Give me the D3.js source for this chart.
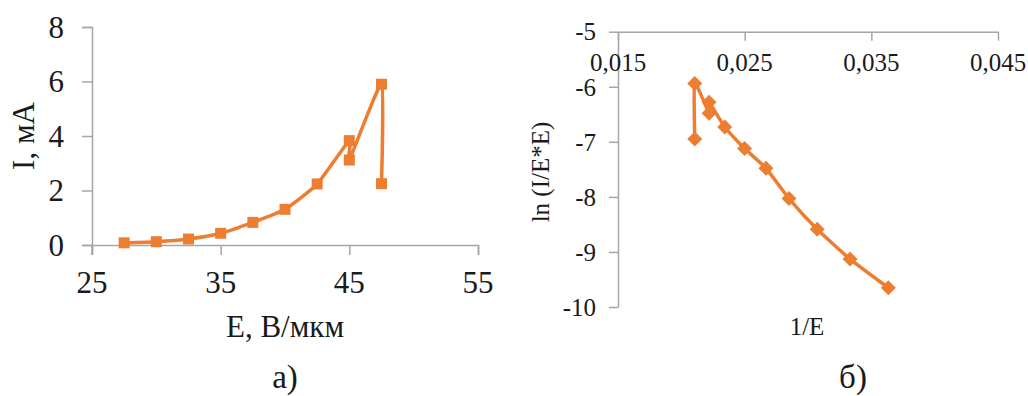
<!DOCTYPE html>
<html><head><meta charset="utf-8">
<script src="https://cdn.jsdelivr.net/npm/d3@7"></script>
<style>
html,body{margin:0;padding:0;background:#fff;}
svg text{font-family:"Liberation Serif","Times New Roman",serif;fill:#1a1a1a;}
</style></head>
<body><svg id="c" width="1028" height="396"></svg>
<script>
// Chart a): I vs E
const E_vals = [27.5, 30, 32.5, 35, 37.5, 40, 42.5, 45, 45, 47.5, 47.5];
const I_vals = [0.08, 0.12, 0.22, 0.43, 0.83, 1.31, 2.24, 3.83, 3.12, 5.9, 2.25];
const xTicksA = [25, 35, 45, 55];
const yTicksA = [0, 2, 4, 6, 8];
// Chart б): ln(I/E*E) vs 1/E
const invE_vals = [0.03634, 0.03332, 0.03073, 0.02850, 0.02668, 0.02499, 0.02343, 0.02219, 0.02219, 0.02106, 0.02106];
const lnVals = [-9.65, -9.13, -8.59, -8.03, -7.48, -7.12, -6.73, -6.28, -6.48, -5.94, -6.95];
const xTicksB = [0.015, 0.025, 0.035, 0.045];
const yTicksB = [-5, -6, -7, -8, -9, -10];

const svg = d3.select("#c");
const orange = "#ED7D31", axisCol = "#A6A6A6";

// ---- Chart a ----
const xA = d3.scaleLinear().domain([25, 55]).range([92, 478]);
const yA = d3.scaleLinear().domain([0, 8]).range([245, 27]);
const gA = svg.append("g");
gA.append("g").attr("transform", `translate(0,${yA(0)})`)
  .call(d3.axisBottom(xA).tickValues(xTicksA).tickSize(10).tickFormat(""))
  .call(g => { g.selectAll("path,line").attr("stroke", axisCol).attr("stroke-width", 1.5); });
gA.append("g").attr("transform", `translate(${xA(25)},0)`)
  .call(d3.axisLeft(yA).tickValues(yTicksA).tickSize(10).tickFormat(""))
  .call(g => { g.selectAll("path,line").attr("stroke", axisCol).attr("stroke-width", 1.5); });
gA.append("line").attr("x1", xA(25)).attr("x2", xA(25)).attr("y1", yA(0)).attr("y2", yA(0) + 10)
  .attr("stroke", axisCol).attr("stroke-width", 1.5);
gA.selectAll(".ytl").data(yTicksA).enter().append("text")
  .attr("x", 64).attr("y", d => yA(d)).attr("dy", "0.35em").attr("text-anchor", "end")
  .attr("font-size", 31).text(d => d);
gA.selectAll(".xtl").data(xTicksA).enter().append("text")
  .attr("x", d => xA(d)).attr("y", 293).attr("text-anchor", "middle")
  .attr("font-size", 31).text(d => d);
gA.append("text").attr("x", 285).attr("y", 337).attr("text-anchor", "middle").attr("font-size", 31).text("E, В/мкм");
gA.append("text").attr("transform", "translate(34,136) rotate(-90)").attr("text-anchor", "middle").attr("font-size", 31).text("I, мА");
gA.append("text").attr("x", 285).attr("y", 388).attr("text-anchor", "middle").attr("font-size", 33).text("а)");
const dataA = E_vals.map((e, i) => [e, I_vals[i]]);
const lineA = d3.line().x(d => xA(d[0])).y(d => yA(d[1])).curve(d3.curveCardinal.tension(0.5));
gA.append("path").datum(dataA).attr("d", lineA).attr("fill", "none").attr("stroke", orange).attr("stroke-width", 3.5).attr("stroke-linejoin", "round");
gA.selectAll(".mk").data(dataA).enter().append("rect")
  .attr("x", d => xA(d[0]) - 5.5).attr("y", d => yA(d[1]) - 5.5).attr("width", 11).attr("height", 11).attr("fill", orange);

// ---- Chart б ----
const xB = d3.scaleLinear().domain([0.015, 0.045]).range([618, 998]);
const yB = d3.scaleLinear().domain([-10, -5]).range([307, 31.7]);
const gB = svg.append("g");
gB.append("g").attr("transform", `translate(0,${yB(-5)})`)
  .call(d3.axisBottom(xB).tickValues(xTicksB).tickSize(9).tickSizeOuter(0).tickFormat(""))
  .call(g => { g.selectAll("path,line").attr("stroke", axisCol).attr("stroke-width", 1.5); });
gB.append("g").attr("transform", `translate(${xB(0.015)},0)`)
  .call(d3.axisLeft(yB).tickValues(yTicksB).tickSize(9).tickSizeOuter(0).tickFormat(""))
  .call(g => { g.selectAll("path,line").attr("stroke", axisCol).attr("stroke-width", 1.5); });
const fmtComma = d => d3.format(".3f")(d).replace(".", ",");
gB.selectAll(".ytl").data(yTicksB).enter().append("text")
  .attr("x", 596).attr("y", d => yB(d)).attr("dy", "0.35em").attr("text-anchor", "end")
  .attr("font-size", 25).text(d => String(d));
gB.selectAll(".xtl").data(xTicksB).enter().append("text")
  .attr("x", d => xB(d)).attr("y", 71).attr("text-anchor", "middle")
  .attr("font-size", 25).text(fmtComma);
gB.append("text").attr("x", 807).attr("y", 335).attr("text-anchor", "middle").attr("font-size", 25).text("1/E");
gB.append("text").attr("transform", "translate(549,172) rotate(-90)").attr("text-anchor", "middle").attr("font-size", 25).text("ln (I/E*E)");
gB.append("text").attr("x", 853).attr("y", 388).attr("text-anchor", "middle").attr("font-size", 33).text("б)");
const dataB = invE_vals.map((v, i) => [v, lnVals[i]]);
const lineB = d3.line().x(d => xB(d[0])).y(d => yB(d[1])).curve(d3.curveCardinal.tension(0.5));
gB.append("path").datum(dataB).attr("d", lineB).attr("fill", "none").attr("stroke", orange).attr("stroke-width", 3.5).attr("stroke-linejoin", "round");
const dm = 7.5;
gB.selectAll(".mk").data(dataB).enter().append("path")
  .attr("transform", d => `translate(${xB(d[0])},${yB(d[1])})`)
  .attr("d", `M0,${-dm}L${dm},0L0,${dm}L${-dm},0Z`).attr("fill", orange);
</script></body></html>
